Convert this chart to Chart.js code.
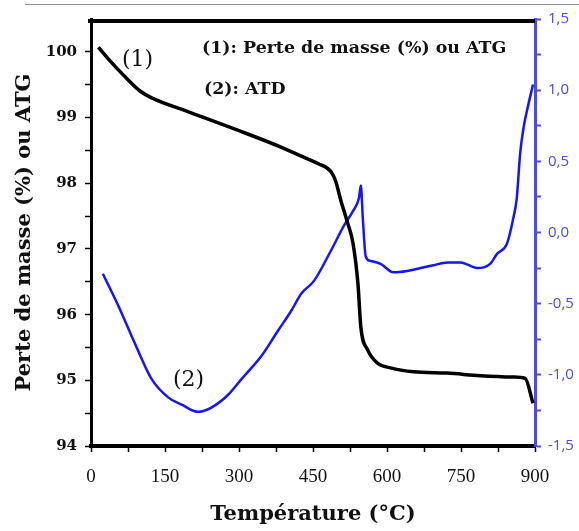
<!DOCTYPE html>
<html>
<head>
<meta charset="utf-8">
<script src="https://cdn.jsdelivr.net/npm/chart.js@4"></script>
<style>
  html, body { margin: 0; padding: 0; background: #fff; }
  #wrap { width: 579px; height: 531px; position: relative; }
</style>
</head>
<body>
<div id="wrap"><canvas id="tgChart"></canvas></div>
<script>
// ATG curve (1): mass loss in % vs temperature in °C (left axis)
const tempATG = [15, 40, 69, 100, 123, 200, 300, 385, 430, 460, 486, 496, 506, 520, 531, 541, 547, 561, 581, 607, 654, 722, 789, 856, 880, 896];
const massATG = [100.07, 99.85, 99.62, 99.40, 99.30, 99.08, 98.80, 98.55, 98.40, 98.30, 98.18, 98.03, 97.75, 97.40, 97.09, 96.48, 95.81, 95.46, 95.26, 95.19, 95.13, 95.11, 95.07, 95.05, 95.03, 94.65];

// ATD curve (2): right axis
const tempATD = [24, 56, 89, 123, 157, 184, 217, 244, 278, 305, 345, 379, 406, 426, 452, 486, 513, 531, 543, 547, 551, 557, 567, 587, 613, 641, 668, 694, 722, 749, 783, 809, 823, 843, 856, 863, 870, 877, 884, 896];
const valATD = [-0.29, -0.52, -0.78, -1.03, -1.16, -1.21, -1.26, -1.23, -1.14, -1.03, -0.87, -0.69, -0.55, -0.43, -0.34, -0.13, 0.05, 0.15, 0.24, 0.33, 0.10, -0.17, -0.20, -0.22, -0.28, -0.27, -0.25, -0.23, -0.21, -0.21, -0.25, -0.22, -0.15, -0.08, 0.10, 0.24, 0.56, 0.74, 0.86, 1.04];

// axis ticks
const xTicksLabelled = [0, 150, 300, 450, 600, 750, 900];
const leftTicks = [94, 94.5, 95, 95.5, 96, 96.5, 97, 97.5, 98, 98.5, 99, 99.5, 100];

const serif = '"Liberation Serif", "DejaVu Serif", serif';
const wideSerif = '"DejaVu Serif", serif';
const blueAxis = '#4a4af2';

// extra drawing: top frame line, faint separator, curve labels
const decorPlugin = {
    id: 'decor',
    afterDraw(chart) {
        const c = chart.ctx;
        const a = chart.chartArea;
        c.save();
        // faint line at the very top of the figure
        c.strokeStyle = '#8c8c8c';
        c.lineWidth = 1;
        c.beginPath();
        c.moveTo(25, 4.5);
        c.lineTo(579, 4.5);
        c.stroke();
        // thick top frame
        c.strokeStyle = '#000';
        c.lineWidth = 4;
        c.beginPath();
        c.moveTo(a.left - 3, a.top + 2);
        c.lineTo(a.right, a.top + 2);
        c.stroke();
        // labels
        c.fillStyle = '#111';
        c.textBaseline = 'middle';
        c.textAlign = 'left';
        c.font = 'bold 17.4px ' + wideSerif;
        c.fillText('(1): Perte de masse (%) ou ATG', 202, 48);
        c.fillText('(2): ATD', 204, 89);
        c.font = '22px ' + wideSerif;
        c.fillText('(1)', 122, 60);
        c.fillText('(2)', 173, 380);
        c.restore();
    }
};

document.addEventListener('DOMContentLoaded', function() {
    const ctx = document.getElementById('tgChart').getContext('2d');

    const config = {
        type: 'line',
        data: {
            datasets: [{
                label: 'ATG',
                data: tempATG.map((t, i) => ({x: t, y: massATG[i]})),
                yAxisID: 'y',
                borderColor: '#000',
                borderWidth: 3.5,
                pointRadius: 0,
                cubicInterpolationMode: 'monotone'
            }, {
                label: 'ATD',
                data: tempATD.map((t, i) => ({x: t, y: valATD[i]})),
                yAxisID: 'y2',
                borderColor: '#1414ff',
                borderWidth: 2.5,
                pointRadius: 0,
                cubicInterpolationMode: 'monotone'
            }]
        },
        options: {
            responsive: true,
            maintainAspectRatio: false,
            animation: false,
            layout: { padding: { top: 19, left: 0, right: 0, bottom: 0 } },
            plugins: {
                legend: { display: false },
                tooltip: { enabled: false }
            },
            scales: {
                x: {
                    type: 'linear',
                    min: 0,
                    max: 900,
                    afterFit: s => { s.height = 85; },
                    ticks: {
                        stepSize: 75,
                        autoSkip: false,
                        maxRotation: 0,
                        color: '#111',
                        font: { family: serif, size: 19 },
                        padding: 14,
                        callback: v => xTicksLabelled.includes(v) ? String(v) : ''
                    },
                    grid: { drawOnChartArea: false, tickLength: 6, tickColor: '#000', tickWidth: 1.5 },
                    border: { display: true, color: '#000', width: 4 },
                    title: {
                        display: true,
                        text: 'Température (°C)',
                        color: '#111',
                        font: { family: wideSerif, size: 21, weight: 'bold' },
                        padding: { top: 4, bottom: 4 }
                    }
                },
                y: {
                    type: 'linear',
                    position: 'left',
                    min: 94,
                    max: 100.5,
                    afterFit: s => { s.width = 91; },
                    afterBuildTicks: s => { s.ticks = leftTicks.map(v => ({value: v})); },
                    ticks: {
                        color: '#111',
                        font: { family: wideSerif, size: 15, weight: 'bold' },
                        padding: 8,
                        callback: v => Number.isInteger(v) ? String(v) : ''
                    },
                    grid: { drawOnChartArea: false, tickLength: 6, tickColor: '#000', tickWidth: 1.5 },
                    border: { display: true, color: '#000', width: 3 },
                    title: {
                        display: true,
                        text: 'Perte de masse (%) ou ATG',
                        color: '#111',
                        font: { family: wideSerif, size: 21, weight: 'bold' },
                        padding: { top: 12, bottom: 0 }
                    }
                },
                y2: {
                    type: 'linear',
                    position: 'right',
                    min: -1.5,
                    max: 1.5,
                    afterFit: s => { s.width = 44; },
                    ticks: {
                        stepSize: 0.25,
                        color: blueAxis,
                        font: { family: '"Open Sans", sans-serif', size: 15 },
                        padding: 7,
                        callback: v => Math.abs(v * 2 - Math.round(v * 2)) < 1e-9 ? v.toFixed(1).replace('.', ',') : ''
                    },
                    grid: { drawOnChartArea: false, tickLength: 6, tickColor: blueAxis, tickWidth: 2 },
                    border: { display: true, color: blueAxis, width: 3 }
                }
            }
        },
        plugins: [decorPlugin]
    };

    new Chart(ctx, config);
});
</script>
</body>
</html>
